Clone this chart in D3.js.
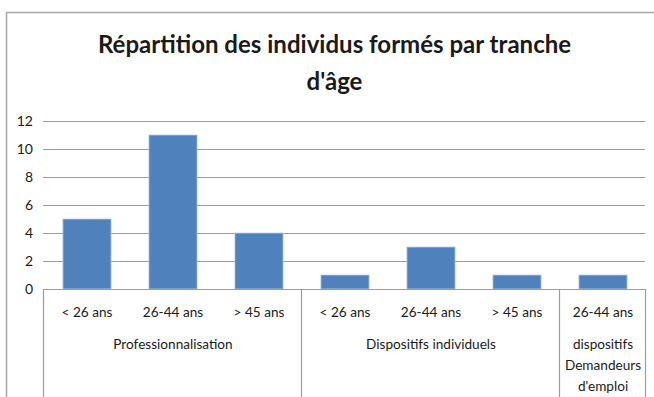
<!DOCTYPE html>
<html>
<head>
<meta charset="utf-8">
<script src="https://cdn.jsdelivr.net/npm/d3@7"></script>
<style>
  html, body { margin: 0; padding: 0; background: #fff; }
  svg { display: block; }
  text { font-family: Lato, "Open Sans", sans-serif; fill: #1a1a1a; }
</style>
</head>
<body>
<svg id="chart" width="654" height="397"></svg>
<script>
// Age bands (tick labels) and the training scheme each bar belongs to
const ageBands = ["< 26 ans", "26-44 ans", "> 45 ans", "< 26 ans", "26-44 ans", "> 45 ans", "26-44 ans"];
const groups = [
  { lines: ["Professionnalisation"], start: 0, end: 3 },
  { lines: ["Dispositifs individuels"], start: 3, end: 6 },
  { lines: ["dispositifs", "Demandeurs", "d'emploi"], start: 6, end: 7 }
];
const values = [5, 11, 4, 1, 3, 1, 1];
const yTicks = [0, 2, 4, 6, 8, 10, 12];
const titleLines = ["Répartition des individus formés par tranche", "d'âge"];

const svg = d3.select("#chart");
const W = 654, H = 397;
const plot = { left: 43, right: 645, top: 121, bottom: 289 };
const labelSize = 13.6;

// Outer chart frame (top and left edges visible)
svg.append("path")
  .attr("d", `M6.5,${H} V12.5 H${W}`)
  .attr("fill", "none")
  .attr("stroke", "#a6a6a6")
  .attr("stroke-width", 1.5);

// Title, slightly condensed horizontally
svg.append("g")
  .attr("transform", "translate(334.5,0) scale(0.962,1)")
  .selectAll("text")
  .data(titleLines).join("text")
  .attr("x", 0)
  .attr("y", (d, i) => 53 + i * 37)
  .attr("text-anchor", "middle")
  .attr("font-size", 25)
  .attr("font-weight", "bold")
  .text(d => d);

const idx = d3.range(values.length);
const x = d3.scaleBand()
  .domain(idx)
  .range([plot.left, plot.right])
  .paddingInner(0.44)
  .paddingOuter(0.22);

const y = d3.scaleLinear()
  .domain([0, 12])
  .range([plot.bottom, plot.top]);

// Horizontal gridlines
svg.append("g").selectAll("line")
  .data(yTicks.filter(t => t > 0)).join("line")
  .attr("x1", plot.left).attr("x2", plot.right)
  .attr("y1", d => Math.round(y(d)) + 0.5)
  .attr("y2", d => Math.round(y(d)) + 0.5)
  .attr("stroke", "#9d9d9d")
  .attr("stroke-width", 1.2);

// Y axis tick labels
const yAxis = d3.axisLeft(y).tickValues(yTicks).tickSize(0).tickPadding(0);
const gy = svg.append("g")
  .attr("transform", `translate(33,0)`)
  .call(yAxis);
gy.select(".domain").remove();
gy.selectAll("text")
  .attr("font-size", 14)
  .attr("font-family", null)
  .attr("fill", "#1a1a1a");

// Bars
svg.append("g").selectAll("rect")
  .data(values).join("rect")
  .attr("x", (d, i) => x(i) + 1)
  .attr("y", d => y(d))
  .attr("width", x.bandwidth())
  .attr("height", d => y(0) - y(d))
  .attr("fill", "#4f81bd")
  .attr("stroke", "#b9cde5")
  .attr("stroke-width", 0.8);

// Category axis baseline
svg.append("line")
  .attr("x1", plot.left).attr("x2", plot.right)
  .attr("y1", plot.bottom + 0.5).attr("y2", plot.bottom + 0.5)
  .attr("stroke", "#9d9d9d")
  .attr("stroke-width", 1.2);

// Group separators running down through the label area
const step = x.step();
const sepX = [0, ...groups.map(g => g.end)].map(i => plot.left + i * step);
svg.append("g").selectAll("line")
  .data(sepX).join("line")
  .attr("x1", d => Math.round(d) + 0.5).attr("x2", d => Math.round(d) + 0.5)
  .attr("y1", plot.bottom).attr("y2", H)
  .attr("stroke", "#9d9d9d")
  .attr("stroke-width", 1.2);

// Age-band tick labels
svg.append("g").selectAll("text")
  .data(ageBands).join("text")
  .attr("x", (d, i) => x(i) + 1 + x.bandwidth() / 2)
  .attr("y", 317)
  .attr("text-anchor", "middle")
  .attr("font-size", labelSize)
  .text(d => d);

// Group labels
const gl = svg.append("g").selectAll("text")
  .data(groups).join("text")
  .attr("text-anchor", "middle")
  .attr("font-size", labelSize)
  .attr("transform", g => `translate(${plot.left + 1 + (g.start + g.end) / 2 * step},349)`);
gl.selectAll("tspan")
  .data(g => g.lines).join("tspan")
  .attr("x", 0)
  .attr("y", (d, i) => i * 20.8)
  .text(d => d);
</script>
</body>
</html>
